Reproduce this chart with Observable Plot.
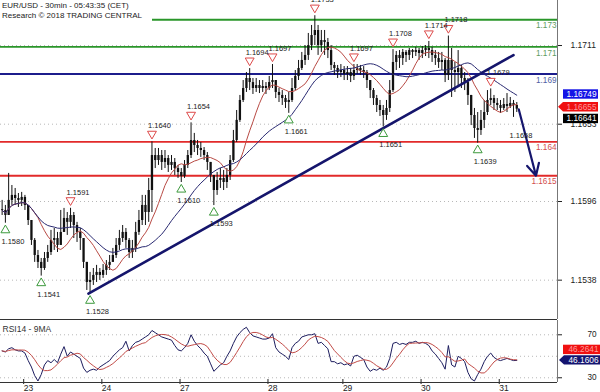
<!DOCTYPE html>
<html><head><meta charset="utf-8">
<script src="https://cdn.jsdelivr.net/npm/d3@7"></script>
<script src="https://cdn.jsdelivr.net/npm/@observablehq/plot@0.6"></script>
<style>
body{margin:0;background:#fff;font-family:"Liberation Sans",Arial,sans-serif;}
#wrap{position:relative;width:600px;height:392px;overflow:hidden;background:#fff;}
#main,#rsi{position:absolute;left:0;}
#main{top:0}
#rsi{top:319px}
#title{position:absolute;left:0;top:0;background:#fff;padding:1px 4px 1px 2px;font-size:8px;line-height:9.5px;color:#222;width:146px;white-space:nowrap}
</style></head><body>
<div id="wrap"><div id="main"></div><div id="rsi"></div>
<div id="title">EUR/USD - 30min - 05:43:35 (CET)<br>Research © 2018 TRADING CENTRAL</div></div>
<script>
// ---- data (hourly candles) ----
const firstOpen = 1.1590;
const close = [1.15894,1.15857,1.15968,1.16005,1.15982,1.15968,1.15990,1.15931,1.15820,1.15673,
1.15562,1.15511,1.15466,1.15540,1.15584,1.15673,1.15687,1.15636,1.15732,1.15835,
1.15806,1.15857,1.15783,1.15732,1.15687,1.15511,1.15363,1.15378,1.15415,1.15437,
1.15415,1.15452,1.15489,1.15511,1.15562,1.15636,1.15687,1.15732,1.15673,1.15584,
1.15614,1.15732,1.15820,1.15931,1.15879,1.16041,1.16299,1.16262,1.16299,1.16248,
1.16277,1.16226,1.16248,1.16203,1.16174,1.16145,1.16226,1.16299,1.16410,1.16373,
1.16351,1.16336,1.16299,1.16248,1.16152,1.16041,1.16115,1.16130,1.16100,1.16152,
1.16262,1.16410,1.16558,1.16705,1.16793,1.16867,1.16837,1.16793,1.16815,1.16793,
1.16808,1.16793,1.16837,1.16852,1.16764,1.16742,1.16719,1.16690,1.16705,1.16793,
1.16882,1.16941,1.17000,1.17037,1.17110,1.17184,1.17221,1.17110,1.17147,1.17132,
1.17073,1.16963,1.16941,1.16911,1.16926,1.16897,1.16911,1.16882,1.16926,1.16941,
1.16926,1.16911,1.16852,1.16778,1.16719,1.16668,1.16631,1.16594,1.16646,1.16778,
1.16985,1.17037,1.17014,1.17059,1.17037,1.17073,1.17059,1.17073,1.17051,1.17073,
1.17088,1.17073,1.17037,1.17014,1.16985,1.17000,1.16889,1.17000,1.16926,1.16911,
1.16941,1.16867,1.16837,1.16742,1.16594,1.16498,1.16484,1.16558,1.16616,1.16705,
1.16719,1.16683,1.16668,1.16646,1.16675,1.16661,1.16683,1.16668,1.16641];
const high = [1.15968,1.15931,1.16167,1.16078,1.16056,1.16019,1.16027,1.16005,1.15931,1.15820,
1.15687,1.15599,1.15540,1.15584,1.15636,1.15747,1.15761,1.15732,1.15894,1.15909,
1.15879,1.1591,1.15879,1.15806,1.15761,1.15687,1.15511,1.15437,1.15466,1.15489,
1.15466,1.15496,1.15525,1.15562,1.15614,1.15687,1.15747,1.15783,1.15761,1.15687,
1.15673,1.15806,1.15894,1.16005,1.16005,1.16130,1.1640,1.16351,1.16351,1.16336,
1.16336,1.16299,1.16299,1.16277,1.16226,1.16203,1.16262,1.16336,1.1654,1.16462,
1.16410,1.16395,1.16358,1.16321,1.16240,1.16152,1.16174,1.16203,1.16189,1.16203,
1.16299,1.16484,1.16631,1.16742,1.16852,1.16911,1.1694,1.16867,1.16867,1.16852,
1.16852,1.16837,1.16882,1.1697,1.16852,1.16793,1.16778,1.16742,1.16764,1.16867,
1.16926,1.17000,1.17059,1.17110,1.17199,1.17258,1.1733,1.17258,1.17221,1.17221,
1.17162,1.17110,1.16985,1.16963,1.16970,1.16955,1.16955,1.16941,1.1697,1.16970,
1.16963,1.16955,1.16926,1.16852,1.16793,1.16742,1.16705,1.16668,1.16705,1.16852,
1.1708,1.17066,1.17073,1.17081,1.17073,1.17088,1.17081,1.17096,1.17088,1.17103,
1.17110,1.1714,1.17096,1.17073,1.17059,1.17059,1.17014,1.1718,1.17088,1.16985,
1.17073,1.16963,1.16911,1.16867,1.16742,1.16646,1.16616,1.16631,1.16705,1.16778,
1.1679,1.16742,1.16719,1.16705,1.16719,1.16756,1.16727,1.16705,1.16690];
const low = [1.15857,1.1580,1.15879,1.15931,1.15931,1.15916,1.15923,1.15894,1.15783,1.15636,
1.15511,1.15466,1.1541,1.15452,1.15511,1.15562,1.15599,1.15584,1.15636,1.15732,
1.15710,1.15761,1.15687,1.15658,1.15599,1.15466,1.15304,1.1528,1.15341,1.15363,
1.15378,1.15393,1.15415,1.15452,1.15511,1.15540,1.15599,1.15658,1.15614,1.15540,
1.15540,1.15584,1.15710,1.15783,1.15783,1.15806,1.15879,1.16203,1.16226,1.16189,
1.16203,1.16174,1.16189,1.16152,1.16130,1.1610,1.16130,1.16203,1.16277,1.16321,
1.16299,1.16285,1.16262,1.16189,1.16100,1.1593,1.16005,1.16056,1.16041,1.16056,
1.16115,1.16248,1.16395,1.16543,1.16690,1.16764,1.16778,1.16749,1.16764,1.16756,
1.16764,1.16749,1.16778,1.16793,1.16719,1.16690,1.16668,1.16646,1.1661,1.16690,
1.16778,1.16852,1.16926,1.16963,1.17000,1.17073,1.17110,1.17037,1.17059,1.17037,
1.17014,1.16926,1.16889,1.16867,1.16874,1.16852,1.16852,1.16837,1.16852,1.16897,
1.16889,1.16867,1.16793,1.16719,1.16668,1.16616,1.16587,1.1651,1.16558,1.16616,
1.16764,1.16926,1.16941,1.16963,1.16985,1.17000,1.17014,1.17029,1.17000,1.17014,
1.17029,1.17014,1.16985,1.16963,1.16941,1.16926,1.16837,1.16852,1.16727,1.16764,
1.16815,1.16793,1.16778,1.16668,1.16520,1.16425,1.1639,1.16447,1.16498,1.16594,
1.16668,1.16631,1.16631,1.16609,1.16631,1.16616,1.16646,1.1658,1.16616];
const rsi = [55,54,57,58,56,55,55,53,46,40,
32,27,33,42,46,44,47,44,52,59,
50,54,52,50,48,39,35,37,38,37,
40,42,44,46,50,53,56,58,64,55,
60,63,64,66,68,70,74,72,70,68,
67,66,65,60,56,55,58,62,70,64,
60,57,53,50,43,36,39,42,44,50,
55,62,68,72,75,77,72,69,68,67,
66,66,67,71,58,54,52,50,47,58,
62,64,68,69,70,70,71,62,63,60,
57,45,45,43,44,42,43,41,50,51,
49,47,40,36,38,37,39,37,40,48,
62,63,61,62,61,63,63,64,62,63,
62,60,55,52,48,44,38,60,42,40,
50,48,45,35,29,27,33,38,45,50,
53,49,47,46,47,48,47,46,46.16];

const dayTicks = [6, 30, 54, 81, 104, 128, 152];
const dayLabels = ["23", "24", "27", "28", "29", "30", "31"];
const priceTicks = [1.1711, 1.1653, 1.1596, 1.1538];
const rsiTicks = [70, 30];
const rsiGrid = [70, 50, 30];
const levelValues = [1.173, 1.171, 1.169, 1.164, 1.1615];
const levelLabels = ["1.173", "1.171", "1.169", "1.164", "1.1615"];
const levelKinds = ["res", "res", "pivot", "sup", "sup"];
const pivotHighIdx = [21, 46, 58, 76, 83, 96, 108, 120, 131, 137, 150];
const pivotHighVal = [1.1591, 1.1640, 1.1654, 1.1694, 1.1697, 1.1733, 1.1697, 1.1708, 1.1714, 1.1718, 1.1679];
const pivotLowIdx = [1, 12, 27, 55, 65, 88, 117, 146];
const pivotLowVal = [1.1580, 1.1541, 1.1528, 1.1610, 1.1593, 1.1661, 1.1651, 1.1639];
const lastPivotIdx = [157];
const lastPivotVal = [1.1658];
const trendIdx = [26.5, 157];
const trendVal = [1.1528, 1.1704];
const projIdx = [158.6, 163.9];
const projVal = [1.1664, 1.1615];
const priceTagValues = [1.16749, 1.16655, 1.16641];
const rsiTagValues = [46.1606, 46.2641];

// ---- build tables ----
const candles = close.map((c, i) => {
  const o = i ? close[i - 1] : firstOpen;
  return {i, o, c, h: Math.max(high[i], o, c), l: Math.min(low[i], o, c)};
});
const rsiData = rsi.map((r, i) => ({i, r}));
const levels = levelValues.map((v, k) => ({v, label: levelLabels[k], kind: levelKinds[k]}));
const highs = pivotHighIdx.map((i, k) => ({i, v: pivotHighVal[k]}));
const lows = pivotLowIdx.map((i, k) => ({i, v: pivotLowVal[k]}));
const lastPiv = lastPivotIdx.map((i, k) => ({i, v: lastPivotVal[k]}));
const trend = trendIdx.map((i, k) => ({i, v: trendVal[k]}));
const proj = [{i1: projIdx[0], v1: projVal[0], i2: projIdx[1], v2: projVal[1]}];

const lineColor = {res: "#2a962a", pivot: "#1c1c8c", sup: "#e22a2a"};
const textColor = {res: "#5f9c5f", pivot: "#5060a4", sup: "#d24e4e"};
const NAVY = "#15156c";
const FONT = "'Liberation Sans', Arial, sans-serif";
const xDomain = [-0.5, 170.5];

const main = Plot.plot({
  width: 600, height: 320, marginLeft: 0, marginRight: 43, marginTop: 0, marginBottom: 1,
  x: {domain: xDomain, axis: null},
  y: {domain: [1.15090, 1.17442]},
  style: {background: "transparent", fontFamily: FONT, fontSize: "8px", color: "#222"},
  marks: [
    Plot.gridY(priceTicks, {stroke: "#b8b8b8", strokeOpacity: 1, strokeDasharray: "1,3"}),
    Plot.axisY(priceTicks, {anchor: "right", tickSize: 4, tickPadding: 9, fontSize: 8.5, tickFormat: ".4f", label: null}),
    Plot.ruleY(levels, {y: "v", stroke: d => lineColor[d.kind], strokeWidth: 1.8}),
    Plot.text(levels, {y: "v", text: "label", frameAnchor: "right", textAnchor: "end", dx: -1, dy: 6, fontSize: 8.2, fill: d => textColor[d.kind]}),
    Plot.ruleX(candles, {x: "i", y1: "l", y2: "h", stroke: "#111", strokeWidth: 1}),
    Plot.ruleX(candles, {x: "i", y1: "o", y2: "c", stroke: "#111", strokeWidth: 2.3}),
    Plot.lineY(candles, Plot.windowY({k: 10, anchor: "end", reduce: "mean"}, {x: "i", y: "c", stroke: "#b84a44", strokeWidth: 1})),
    Plot.lineY(candles, Plot.windowY({k: 25, anchor: "end", reduce: "mean"}, {x: "i", y: "c", stroke: "#2a2a72", strokeWidth: 1})),
    Plot.line(trend, {x: "i", y: "v", stroke: NAVY, strokeWidth: 2.6}),
    Plot.arrow(proj, {x1: "i1", y1: "v1", x2: "i2", y2: "v2", stroke: NAVY, strokeWidth: 2.2, headLength: 9, headAngle: 55}),
    Plot.dot(highs, {x: "i", y: "v", symbol: "triangle", rotate: 180, r: 3.3, dy: -8, fill: "white", stroke: "#dd4a4a", strokeWidth: 1}),
    Plot.dot(lows, {x: "i", y: "v", symbol: "triangle", r: 3.3, dy: 7, fill: "white", stroke: "#3d9a3d", strokeWidth: 1}),
    Plot.text(highs, {x: "i", y: "v", text: d => d.v.toFixed(4), dy: -16, dx: -4, textAnchor: "start", fontSize: 7.5, fill: "#222"}),
    Plot.text(lows, {x: "i", y: "v", text: d => d.v.toFixed(4), dy: 18, dx: -4, textAnchor: "start", fontSize: 7.5, fill: "#222"}),
    Plot.text(lastPiv, {x: "i", y: "v", text: d => d.v.toFixed(4), dy: 18, dx: -4, textAnchor: "start", fontSize: 7.5, fill: "#222"}),
    Plot.ruleY([1.15090], {stroke: "#333", strokeWidth: 1}),
    Plot.ruleX([xDomain[1]], {stroke: "#777", strokeWidth: 1})
  ]
});
document.getElementById("main").appendChild(main);

const rsiPlot = Plot.plot({
  width: 600, height: 73, marginLeft: 0, marginRight: 43, marginTop: 1, marginBottom: 10,
  x: {domain: xDomain},
  y: {domain: [25.6, 83.3]},
  style: {background: "transparent", fontFamily: FONT, fontSize: "8px", color: "#222"},
  marks: [
    Plot.gridY(rsiGrid, {stroke: "#b8b8b8", strokeOpacity: 1, strokeDasharray: "1,3"}),
    Plot.axisY(rsiTicks, {anchor: "right", tickSize: 4, tickPadding: 26, fontSize: 8.2, label: null}),
    Plot.axisX(dayTicks, {anchor: "bottom", tickSize: 5, tickPadding: 0, dy: -3, dx: 2, textAnchor: "start", fontSize: 8.5, label: null,
      tickFormat: d => dayLabels[dayTicks.indexOf(d)]}),
    Plot.lineY(rsiData, {x: "i", y: "r", stroke: "#1c1c5e", strokeWidth: 1}),
    Plot.lineY(rsiData, Plot.windowY({k: 6, anchor: "end", reduce: "mean"}, {x: "i", y: "r", stroke: "#c24c48", strokeWidth: 1})),
    Plot.text(["RSI14 - 9MA"], {frameAnchor: "top-left", dx: 2, dy: 5, fontSize: 8.5, fill: "#333"}),
    Plot.ruleY([25.6], {stroke: "#333", strokeWidth: 1}),
    Plot.ruleX([xDomain[1]], {stroke: "#777", strokeWidth: 1})
  ]
});
document.getElementById("rsi").appendChild(rsiPlot);

// ---- value tags in the right margin, placed with the plots' own y scales ----
function addTags(svg, scale, values, specs, dir) {
  const ys = [];
  values.forEach((v, k) => {
    let y = scale.apply(v);
    if (k > 0) y = dir > 0 ? Math.max(y, ys[k - 1] + 11.7) : Math.min(y, ys[k - 1] - 10.5);
    ys.push(y);
  });
  const g = d3.select(svg).append("g").attr("font-family", FONT).attr("font-size", 8.3);
  values.forEach((v, k) => {
    const s = specs[k], y = ys[k];
    if (s.pointer) {
      g.append("path").attr("d", `M${s.x0},${y} L${s.x0 + 5},${y - 4.7} L${s.x1},${y - 4.7} L${s.x1},${y + 4.7} L${s.x0 + 5},${y + 4.7} Z`).attr("fill", s.fill);
    } else {
      g.append("rect").attr("x", s.x0).attr("y", y - 4.7).attr("width", s.x1 - s.x0).attr("height", 9.4).attr("fill", s.fill);
    }
    g.append("text").attr("x", s.x1 - 1.5).attr("y", y).attr("dy", "0.35em").attr("text-anchor", "end").attr("fill", s.text).text(s.fmt(v));
  });
}
addTags(main, main.scale("y"), priceTagValues, [
  {x0: 563, x1: 598, fill: "#1414e6", text: "#fff", fmt: v => v.toFixed(5)},
  {x0: 558, x1: 598, fill: "#f01010", text: "#ff9a9a", pointer: true, fmt: v => v.toFixed(5)},
  {x0: 563, x1: 598, fill: "#000", text: "#fff", fmt: v => v.toFixed(5)}
], 1);
addTags(rsiPlot, rsiPlot.scale("y"), rsiTagValues, [
  {x0: 559, x1: 600, fill: "#141470", text: "#fff", pointer: true, fmt: v => v.toFixed(4)},
  {x0: 563, x1: 600, fill: "#f01010", text: "#ff9a9a", fmt: v => v.toFixed(4)}
], -1);
</script>
</body></html>
